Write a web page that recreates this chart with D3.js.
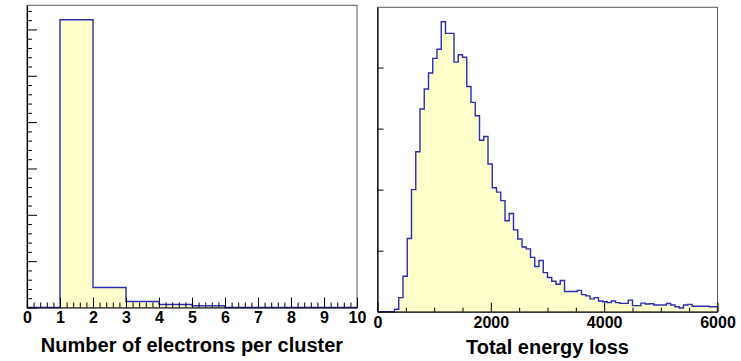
<!DOCTYPE html>
<html>
<head>
<meta charset="utf-8">
<script src="https://cdn.jsdelivr.net/npm/d3@7"></script>
<style>
  html, body { margin: 0; padding: 0; background: #fff; }
  svg { display: block; }
  text { font-family: "Liberation Sans", Arial, Helvetica, sans-serif; font-weight: bold; fill: #000; }
</style>
</head>
<body>
<svg id="chart" width="741" height="361"></svg>
<script>
// ---------- data ----------
// Left: number of electrons per cluster, bins of width 1 from 0 to 10
const clusterBinEdgesStart = 0;
const clusterBinWidth = 1;
const clusterCounts = [0, 6210, 430, 130, 65, 37, 0, 0, 0, 0];
const clusterTicks = [0, 1, 2, 3, 4, 5, 6, 7, 8, 9, 10];

// Right: total energy loss, 80 bins of width 75 from 0 to 6000
const energyBinStart = 0;
const energyBinWidth = 75;
const energyCounts = [
  0, 0, 0, 0, 4, 23, 58, 120, 200, 262,
  332, 365, 391, 415, 430, 475, 456, 456, 409, 421,
  417, 369, 343, 321, 281, 287, 242, 203, 196, 182,
  149, 161, 134, 119, 106, 103, 89, 74, 84, 64,
  56, 50, 45, 51, 33, 33, 33, 35, 28, 26,
  21, 23, 17.5, 16.4, 14.8, 17.5, 14.8, 13.7, 13.7, 19,
  10, 10, 14, 12.6, 13, 11, 11, 11, 13.5, 11,
  8, 6, 11, 12, 9, 9, 9, 9, 8, 8
];
const energyTicks = [0, 2000, 4000, 6000];

const xTitleLeft = "Number of electrons per cluster";
const xTitleRight = "Total energy loss";

// ---------- styling ----------
const FILL = "#ffffcc";
const LINE = "#2c2cb4";
const FRAME = "#5a5a5a";

const svg = d3.select("#chart");

function drawHist(cfg) {
  const g = svg.append("g");
  const x = d3.scaleLinear().domain(cfg.xDomain).range([cfg.left, cfg.right]);
  const y = d3.scaleLinear().domain([0, d3.max(cfg.counts) * 1.05]).range([cfg.bottom, cfg.top]);

  // frame
  g.append("rect")
    .attr("x", cfg.left).attr("y", cfg.top)
    .attr("width", cfg.right - cfg.left).attr("height", cfg.bottom - cfg.top)
    .attr("fill", "#fff").attr("stroke", FRAME).attr("stroke-width", 1);

  // step points
  const pts = cfg.counts.map((c, i) => [cfg.start + i * cfg.width, c]);
  pts.push([cfg.start + cfg.counts.length * cfg.width, cfg.counts[cfg.counts.length - 1]]);

  const area = d3.area().curve(d3.curveStepAfter)
    .x(d => x(d[0])).y0(y(0)).y1(d => y(d[1]));
  g.append("path").datum(pts).attr("d", area).attr("fill", FILL).attr("stroke", "none");

  const linePts = pts.concat([[pts[pts.length - 1][0], 0]]);
  const line = d3.line().curve(d3.curveLinear).x(d => x(d[0])).y(d => y(d[1]));
  // convert to explicit step vertices
  const stepPts = [];
  for (let i = 0; i < cfg.counts.length; i++) {
    const x0 = cfg.start + i * cfg.width, x1 = x0 + cfg.width;
    stepPts.push([x0, cfg.counts[i]]);
    stepPts.push([x1, cfg.counts[i]]);
  }
  stepPts.push([stepPts[stepPts.length - 1][0], 0]);
  g.append("path").datum(stepPts).attr("d", line)
    .attr("fill", "none").attr("stroke", LINE).attr("stroke-width", 1.4)
    .attr("stroke-linejoin", "miter");

  // x axis: major ticks with labels
  const xAxis = d3.axisBottom(x).tickValues(cfg.xTicks).tickSizeInner(-cfg.xMajor).tickSizeOuter(0)
    .tickPadding(cfg.xLabelPad).tickFormat(d3.format("d"));
  const xg = g.append("g").attr("transform", `translate(0,${cfg.bottom})`).call(xAxis);
  xg.selectAll("text").attr("font-size", cfg.tickFont).attr("fill", "#000")
    .style("font-family", "'Liberation Sans', Arial, sans-serif").style("font-weight", "bold");
  xg.selectAll("line").attr("stroke", "#000");
  xg.select(".domain").attr("stroke", "#000").attr("stroke-width", 1.2);

  // x minor ticks
  const xMinor = d3.axisBottom(x).tickValues(cfg.xMinorTicks).tickSizeInner(-cfg.xMinor).tickSizeOuter(0).tickFormat("");
  const xmg = g.append("g").attr("transform", `translate(0,${cfg.bottom})`).call(xMinor);
  xmg.select(".domain").remove();
  xmg.selectAll("line").attr("stroke", "#000");

  // y axis (no labels)
  const yAxis = d3.axisRight(y).tickValues(cfg.yTicks).tickSizeInner(cfg.yMajor).tickSizeOuter(0).tickFormat("");
  const yg = g.append("g").attr("transform", `translate(${cfg.left},0)`).call(yAxis);
  yg.selectAll("line").attr("stroke", "#000");
  yg.select(".domain").attr("stroke", "#000").attr("stroke-width", 1.2);
  if (cfg.yMinorTicks.length) {
    const yMinor = d3.axisRight(y).tickValues(cfg.yMinorTicks).tickSizeInner(cfg.yMinor).tickSizeOuter(0).tickFormat("");
    const ymg = g.append("g").attr("transform", `translate(${cfg.left},0)`).call(yMinor);
    ymg.select(".domain").remove();
    ymg.selectAll("line").attr("stroke", "#000");
  }

  // title
  g.append("text")
    .attr("x", (cfg.left + cfg.right) / 2).attr("y", cfg.titleY)
    .attr("text-anchor", "middle").attr("font-size", 20)
    .text(cfg.title);
}

// Left panel
const clusterMinor = d3.range(0, 10.001, 0.2).filter(v => Math.abs(v - Math.round(v)) > 1e-6);
drawHist({
  left: 27, right: 357, top: 5.3, bottom: 307.5,
  xDomain: [0, 10], start: clusterBinEdgesStart, width: clusterBinWidth, counts: clusterCounts,
  xTicks: clusterTicks, xMinorTicks: clusterMinor, xMajor: 10, xMinor: 5,
  xLabelPad: 4, tickFont: 16,
  yTicks: d3.range(0, 6001, 1000), yMinorTicks: d3.range(200, 6401, 200).filter(v => v % 1000 !== 0),
  yMajor: 10, yMinor: 5,
  title: xTitleLeft, titleY: 352
});

// Right panel
const energyMinor = d3.range(500, 6000, 500).filter(v => v % 2000 !== 0);
drawHist({
  left: 377.5, right: 717.5, top: 7.3, bottom: 311.7,
  xDomain: [0, 6000], start: energyBinStart, width: energyBinWidth, counts: energyCounts,
  xTicks: energyTicks, xMinorTicks: energyMinor, xMajor: 9, xMinor: 4,
  xLabelPad: 5, tickFont: 16,
  yTicks: [100, 200, 300, 400], yMinorTicks: [],
  yMajor: 6, yMinor: 3,
  title: xTitleRight, titleY: 354
});
</script>
</body>
</html>
